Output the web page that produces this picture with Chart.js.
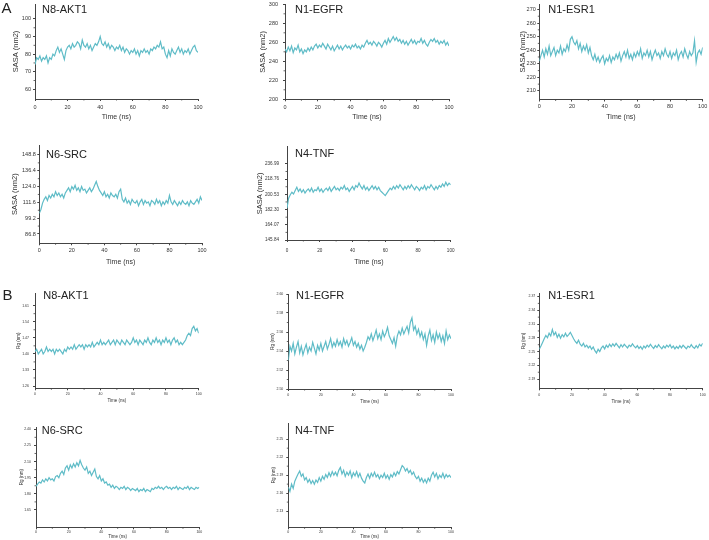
<!DOCTYPE html>
<html>
<head>
<meta charset="utf-8">
<script src="https://cdn.jsdelivr.net/npm/chart.js@4.4.1/dist/chart.umd.min.js"></script>
<style>
body { margin: 0; background: #fff; }
#fig { position: relative; width: 709px; height: 540px; overflow: hidden; font-family: "Liberation Sans", Arial, sans-serif; color: #222; }
#fig canvas { position: absolute; }
.lbl { position: absolute; white-space: nowrap; }
</style>
</head>
<body>
<div id="fig"></div>
<script>
// time axis, ns
const xTicks = ['0', '20', '40', '60', '80', '100'];

// A: SASA (nm2), sampled every ~1 ns
const akt1Sasa = [74,78,77,79,76,78,77,79,75,78,77,80,79,82,84,81,83,80,77,82,84,85,83,86,84,85,87,86,83,88,85,84,86,83,85,82,84,86,85,87,90,86,85,87,84,86,83,85,84,82,84,83,85,82,84,81,83,82,80,82,81,83,80,82,79,82,81,83,81,82,80,83,82,84,83,85,84,87,83,84,80,78,82,79,83,81,80,82,84,81,83,80,82,81,83,80,82,84,85,82,81];
const egfrSasa = [253,250,255,251,256,249,254,252,257,250,253,248,252,250,254,251,255,252,256,258,254,257,255,259,256,253,258,255,252,256,251,254,257,253,256,252,255,257,254,256,253,257,255,258,254,256,253,257,255,259,262,258,260,257,261,259,256,260,258,255,259,262,258,264,260,263,266,262,265,261,263,259,262,258,261,257,260,263,259,262,258,261,260,264,259,262,258,256,260,263,261,264,260,262,258,261,259,262,257,260,256];
const esr1Sasa = [232,236,240,235,241,237,243,236,239,242,236,240,238,243,237,241,239,244,240,248,250,246,244,247,241,245,239,243,240,244,238,242,236,233,237,232,235,231,234,236,230,234,232,236,231,235,233,237,234,238,232,236,239,235,240,234,237,233,238,235,239,236,241,234,238,236,240,235,239,233,237,240,236,238,234,239,236,241,237,235,239,234,238,236,240,233,237,239,235,241,237,234,239,236,238,247,231,238,240,237,242];
const srcSasa = [103,106,111,114,116,113,117,115,118,116,120,117,119,116,118,115,119,121,123,120,124,122,125,121,123,120,124,121,122,119,121,123,120,122,125,128,124,121,119,117,120,116,118,115,119,117,116,118,115,120,122,114,112,115,111,113,110,114,112,111,113,109,112,114,110,113,111,112,109,113,112,110,114,111,113,109,112,110,113,111,117,112,110,113,111,109,112,110,113,111,110,112,109,113,111,110,112,114,111,116,113];
const tnfSasa = [184,196,200,203,201,205,209,204,207,203,206,202,205,207,204,208,203,206,205,209,204,207,203,206,208,205,209,204,207,210,206,208,205,209,207,211,206,208,204,207,210,206,211,209,214,210,207,211,206,209,205,208,211,207,210,206,209,205,203,201,199,202,205,208,206,210,207,211,208,212,209,206,210,207,211,208,212,209,206,210,208,205,209,207,211,206,210,208,212,209,206,210,207,211,209,213,210,215,211,214,212];

// B: Rg (nm)
const akt1Rg = [1.41,1.42,1.40,1.41,1.42,1.40,1.41,1.43,1.41,1.42,1.41,1.42,1.40,1.42,1.41,1.42,1.41,1.40,1.42,1.41,1.43,1.42,1.43,1.42,1.44,1.42,1.43,1.44,1.43,1.44,1.42,1.44,1.43,1.44,1.43,1.45,1.43,1.44,1.45,1.44,1.46,1.44,1.45,1.44,1.45,1.46,1.44,1.45,1.46,1.44,1.46,1.45,1.44,1.46,1.45,1.44,1.46,1.45,1.44,1.45,1.47,1.45,1.46,1.44,1.46,1.45,1.44,1.46,1.45,1.47,1.45,1.44,1.46,1.45,1.47,1.45,1.46,1.44,1.46,1.45,1.47,1.45,1.46,1.44,1.46,1.47,1.45,1.46,1.44,1.45,1.44,1.45,1.46,1.48,1.49,1.48,1.51,1.52,1.50,1.51,1.49];
const egfrRg = [2.530,2.545,2.540,2.548,2.537,2.544,2.550,2.538,2.545,2.536,2.542,2.547,2.538,2.544,2.540,2.549,2.543,2.537,2.546,2.541,2.548,2.540,2.545,2.550,2.542,2.547,2.553,2.544,2.549,2.545,2.552,2.546,2.550,2.544,2.553,2.547,2.551,2.545,2.549,2.554,2.546,2.550,2.544,2.548,2.542,2.546,2.540,2.544,2.549,2.555,2.552,2.558,2.551,2.556,2.562,2.553,2.558,2.552,2.561,2.555,2.559,2.565,2.556,2.552,2.548,2.554,2.545,2.556,2.561,2.557,2.564,2.558,2.562,2.566,2.559,2.570,2.575,2.562,2.566,2.558,2.563,2.555,2.560,2.552,2.558,2.546,2.556,2.562,2.551,2.557,2.549,2.560,2.553,2.558,2.550,2.556,2.548,2.561,2.552,2.557,2.553];
const esr1Rg = [2.255,2.262,2.270,2.278,2.285,2.280,2.290,2.284,2.298,2.286,2.292,2.281,2.288,2.279,2.287,2.282,2.290,2.283,2.287,2.292,2.285,2.278,2.272,2.268,2.275,2.266,2.262,2.268,2.260,2.264,2.258,2.262,2.255,2.260,2.252,2.247,2.255,2.250,2.258,2.262,2.256,2.264,2.259,2.266,2.261,2.267,2.262,2.268,2.263,2.258,2.265,2.260,2.266,2.262,2.258,2.264,2.261,2.267,2.262,2.258,2.263,2.257,2.261,2.255,2.262,2.258,2.264,2.260,2.266,2.261,2.257,2.263,2.259,2.265,2.260,2.256,2.262,2.258,2.264,2.260,2.265,2.258,2.262,2.256,2.261,2.257,2.263,2.258,2.264,2.260,2.256,2.262,2.259,2.265,2.260,2.257,2.263,2.258,2.266,2.262,2.268];
const srcRg = [1.87,1.89,1.91,1.90,1.93,1.91,1.94,1.92,1.95,1.93,1.94,1.92,1.96,1.97,1.95,1.99,2.01,1.98,2.04,2.06,2.02,2.07,2.04,2.08,2.05,2.09,2.06,2.11,2.07,2.04,2.02,2.05,1.99,2.01,1.97,2.00,2.03,1.96,1.94,1.97,1.92,1.94,1.90,1.91,1.88,1.89,1.86,1.88,1.85,1.87,1.86,1.84,1.86,1.85,1.87,1.84,1.86,1.85,1.83,1.85,1.84,1.83,1.85,1.82,1.84,1.83,1.85,1.82,1.84,1.83,1.82,1.85,1.84,1.86,1.85,1.87,1.85,1.86,1.84,1.86,1.87,1.85,1.86,1.84,1.86,1.85,1.87,1.84,1.86,1.85,1.84,1.86,1.85,1.87,1.84,1.86,1.85,1.84,1.86,1.85,1.86];
const tnfRg = [2.170,2.163,2.175,2.168,2.180,2.186,2.192,2.197,2.188,2.192,2.182,2.186,2.178,2.183,2.176,2.181,2.175,2.182,2.178,2.186,2.180,2.188,2.183,2.191,2.186,2.194,2.188,2.196,2.190,2.195,2.189,2.198,2.203,2.192,2.198,2.188,2.195,2.190,2.197,2.186,2.194,2.189,2.196,2.187,2.193,2.185,2.180,2.177,2.186,2.192,2.185,2.193,2.188,2.195,2.187,2.191,2.184,2.190,2.186,2.193,2.185,2.190,2.183,2.191,2.187,2.194,2.189,2.196,2.192,2.199,2.206,2.203,2.197,2.201,2.194,2.198,2.191,2.195,2.188,2.184,2.188,2.180,2.185,2.178,2.183,2.177,2.185,2.180,2.190,2.195,2.187,2.193,2.184,2.190,2.186,2.193,2.185,2.191,2.187,2.190,2.186];

// y tick labels as printed
const akt1SasaTicks = ['60', '70', '80', '90', '100'];
const egfrSasaTicks = ['200', '220', '240', '260', '280', '300'];
const esr1SasaTicks = ['210', '220', '230', '240', '250', '260', '270'];
const srcSasaTicks = ['86.8', '99.2', '111.6', '124.0', '136.4', '148.8'];
const tnfSasaTicks = ['145.84', '164.07', '182.30', '200.53', '218.76', '236.99'];
const akt1RgTicks = ['1.26', '1.33', '1.40', '1.47', '1.54', '1.61'];
const egfrRgTicks = ['2.50', '2.52', '2.54', '2.56', '2.58', '2.60'];
const esr1RgTicks = ['2.19', '2.22', '2.25', '2.28', '2.31', '2.34', '2.37'];
const srcRgTicks = ['1.65', '1.80', '1.95', '2.10', '2.25', '2.40'];
const tnfRgTicks = ['2.13', '2.16', '2.19', '2.22', '2.25'];

const lineColor = '#5fbcc7';
const axisColor = '#444';
const textColor = '#333';

// plot boxes (page px) and axis ranges
const panels = [
    {title: 'N8-AKT1', data: akt1Sasa, ticks: akt1SasaTicks, min: 54.5, max: 108.5, yTitle: 'SASA (nm2)', small: false,
        L: 35, T: 4, R: 198, B: 99, yTitleX: 16, xTitleY: 117, xLabelY: 107, gap: 4, tx: 42, ty: 9.5},
    {title: 'N1-EGFR', data: egfrSasa, ticks: egfrSasaTicks, min: 200, max: 300, yTitle: 'SASA (nm2)', small: false,
        L: 285, T: 4, R: 449, B: 99.3, yTitleX: 262.7, xTitleY: 117, xLabelY: 107.3, gap: 7, tx: 295, ty: 9.5},
    {title: 'N1-ESR1', data: esr1Sasa, ticks: esr1SasaTicks, min: 203.7, max: 274, yTitle: 'SASA (nm2)', small: false,
        L: 539.3, T: 4, R: 702.7, B: 99.5, yTitleX: 523.3, xTitleY: 117.3, xLabelY: 106.7, gap: 3.5, tx: 548.3, ty: 9.5},
    {title: 'N6-SRC', data: srcSasa, ticks: srcSasaTicks, min: 79.5, max: 156.6, yTitle: 'SASA (nm2)', small: false,
        L: 39.3, T: 145, R: 202, B: 243.3, yTitleX: 15, xTitleY: 261.7, xLabelY: 250.3, gap: 3.5, tx: 46, ty: 154.7},
    {title: 'N4-TNF', data: tnfSasa, ticks: tnfSasaTicks, min: 145.84, max: 257.5, yTitle: 'SASA (nm2)', small: false, tickSize: 4.6,
        L: 287, T: 146.7, R: 450.7, B: 240, yTitleX: 259.5, xTitleY: 262.3, xLabelY: 251, gap: 8, tx: 295, ty: 153.8},
    {title: 'N8-AKT1', data: akt1Rg, ticks: akt1RgTicks, min: 1.25, max: 1.665, yTitle: 'Rg (nm)', small: true,
        L: 35, T: 293, R: 198.7, B: 388.3, yTitleX: 19, xTitleY: 400.7, xLabelY: 394.3, gap: 6, tx: 43.3, ty: 295.5},
    {title: 'N1-EGFR', data: egfrRg, ticks: egfrRgTicks, min: 2.5, max: 2.6, yTitle: 'Rg (nm)', small: true,
        L: 288.3, T: 294, R: 451, B: 389, yTitleX: 273, xTitleY: 402, xLabelY: 395.5, gap: 5, tx: 296, ty: 295.8},
    {title: 'N1-ESR1', data: esr1Rg, ticks: esr1RgTicks, min: 2.17, max: 2.377, yTitle: 'Rg (nm)', small: true,
        L: 539.3, T: 293.3, R: 702.7, B: 388.3, yTitleX: 524, xTitleY: 402, xLabelY: 395, gap: 4, tx: 548.3, ty: 295.8},
    {title: 'N6-SRC', data: srcRg, ticks: srcRgTicks, min: 1.489, max: 2.421, yTitle: 'Rg (nm)', small: true,
        L: 36, T: 427, R: 199.3, B: 527.3, yTitleX: 21.5, xTitleY: 536.7, xLabelY: 532, gap: 5, tx: 41.7, ty: 430.5},
    {title: 'N4-TNF', data: tnfRg, ticks: tnfRgTicks, min: 2.103, max: 2.277, yTitle: 'Rg (nm)', small: true,
        L: 288.3, T: 423, R: 451, B: 527.3, yTitleX: 274, xTitleY: 536.3, xLabelY: 532, gap: 5, tx: 295, ty: 430.5}
];

const fig = document.getElementById('fig');

function addLabel(text, x, yCenter, size) {
    let d = document.createElement('div');
    d.className = 'lbl';
    d.textContent = text;
    d.style.left = x + 'px';
    d.style.top = (yCenter - size / 2) + 'px';
    d.style.fontSize = size + 'px';
    d.style.lineHeight = size + 'px';
    fig.appendChild(d);
}

// small unlabeled ticks halfway between the labelled ones
const minorTicks = {
    id: 'minorTicks',
    afterDraw: function (chart) {
        let ctx = chart.ctx;
        ctx.save();
        ctx.strokeStyle = axisColor;
        ctx.lineWidth = 0.8;
        ['x', 'y'].forEach(function (id) {
            let s = chart.scales[id];
            let t = s.ticks;
            for (let i = 0; i < t.length - 1; i++) {
                let px = s.getPixelForValue((t[i].value + t[i + 1].value) / 2);
                ctx.beginPath();
                if (id === 'x') {
                    ctx.moveTo(px, s.top);
                    ctx.lineTo(px, s.top + 1.5);
                } else {
                    ctx.moveTo(s.right, px);
                    ctx.lineTo(s.right - 1.5, px);
                }
                ctx.stroke();
            }
        });
        ctx.restore();
    }
};

function makeChart(p) {
    let tickSize = p.tickSize || (p.small ? 3.5 : 5.5);
    let yTitleSize = p.small ? 4.5 : 7.5;
    let xTitleSize = p.small ? 4.5 : 7;
    let yLine = yTitleSize * 1.2, xLine = xTitleSize * 1.2, tickLine = tickSize * 1.2;
    let tl = 2;

    let cx = Math.floor(p.yTitleX - yLine / 2);
    let yTitlePad = p.yTitleX - yLine / 2 - cx;
    let cy = Math.floor(p.T - 8);
    let padTop = p.T - cy;
    let W = p.L - cx;
    let H = p.xTitleY + xLine / 2 - p.B;
    let w = Math.ceil(p.R - cx + 12);
    let padRight = w - (p.R - cx);
    let h = Math.ceil(padTop + p.B - p.T + H);
    let xTitlePad = h - (padTop + p.B - p.T + H);
    H += xTitlePad;

    let canvas = document.createElement('canvas');
    canvas.width = w;
    canvas.height = h;
    canvas.style.left = cx + 'px';
    canvas.style.top = cy + 'px';
    fig.appendChild(canvas);

    let n = p.data.length;
    let points = p.data.map(function (v, i) {
        return {x: i * 100 / (n - 1), y: v};
    });
    let yValues = p.ticks.map(parseFloat);
    let xValues = xTicks.map(parseFloat);

    new Chart(canvas.getContext('2d'), {
        type: 'line',
        data: {
            datasets: [{
                data: points,
                borderColor: lineColor,
                borderWidth: 1.2,
                pointRadius: 0,
                tension: 0
            }]
        },
        options: {
            responsive: false,
            animation: false,
            events: [],
            layout: {padding: {left: 0, top: padTop, right: padRight, bottom: 0}},
            plugins: {legend: {display: false}, tooltip: {enabled: false}},
            scales: {
                x: {
                    type: 'linear',
                    min: 0,
                    max: 100,
                    afterBuildTicks: function (s) {
                        s.ticks = xValues.map(function (v) { return {value: v}; });
                    },
                    afterFit: function (s) { s.height = H; },
                    border: {display: true, color: axisColor, width: 1},
                    grid: {drawOnChartArea: false, drawTicks: true, tickLength: tl, color: axisColor},
                    ticks: {
                        maxRotation: 0,
                        autoSkip: false,
                        color: textColor,
                        font: {family: 'Liberation Sans', size: tickSize},
                        padding: Math.max(0, p.xLabelY - p.B - tl - tickLine / 2),
                        callback: function (v) { return xTicks[xValues.indexOf(v)]; }
                    },
                    title: {
                        display: true,
                        text: 'Time (ns)',
                        color: textColor,
                        font: {family: 'Liberation Sans', size: xTitleSize},
                        padding: {top: 0, bottom: xTitlePad}
                    }
                },
                y: {
                    type: 'linear',
                    min: p.min,
                    max: p.max,
                    afterBuildTicks: function (s) {
                        s.ticks = yValues.map(function (v) { return {value: v}; });
                    },
                    afterFit: function (s) { s.width = W; },
                    border: {display: true, color: axisColor, width: 1},
                    grid: {drawOnChartArea: false, drawTicks: true, tickLength: tl, color: axisColor},
                    ticks: {
                        autoSkip: false,
                        color: textColor,
                        font: {family: 'Liberation Sans', size: tickSize},
                        padding: Math.max(0, p.gap - tl),
                        callback: function (v) { return p.ticks[yValues.indexOf(v)]; }
                    },
                    title: {
                        display: true,
                        text: p.yTitle,
                        color: textColor,
                        font: {family: 'Liberation Sans', size: yTitleSize},
                        padding: {top: yTitlePad, bottom: 0}
                    }
                }
            }
        },
        plugins: [minorTicks]
    });

    addLabel(p.title, p.tx, p.ty, 11);
}

panels.forEach(makeChart);

addLabel('A', 1.5, 7.5, 15);
addLabel('B', 2.5, 294, 15);
</script>
</body>
</html>
